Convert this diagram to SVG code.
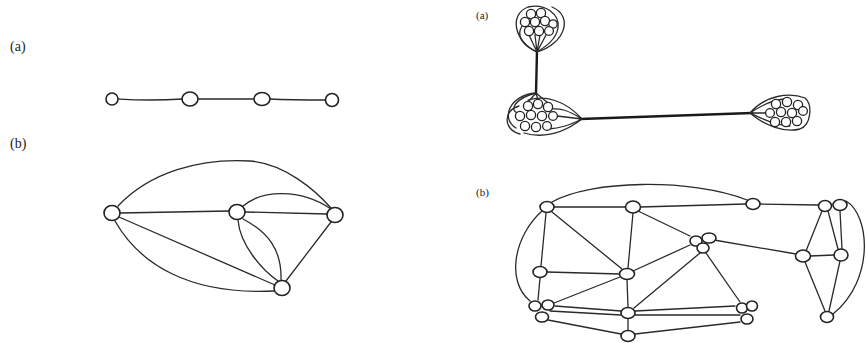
<svg xmlns="http://www.w3.org/2000/svg" width="866" height="343" viewBox="0 0 866 343">
<style>
.lbl{font-family:"Liberation Serif","DejaVu Serif",serif;fill:#222}
.e{fill:none;stroke:#2a2a2a;stroke-width:1.3;stroke-linecap:round}
.t{fill:none;stroke:#1a1a1a;stroke-width:2.4;stroke-linecap:round}
.n{fill:#fff;stroke:#222;stroke-width:1.6}
.c{fill:#fff;stroke:#222;stroke-width:1.3}
</style>
<rect width="866" height="343" fill="#fff"/>
<g id="labels">
<text class="lbl" x="10" y="51" font-size="14">(a)</text>
<text class="lbl" x="10" y="148" font-size="14">(b)</text>
<text class="lbl" x="476" y="19" font-size="11">(a)</text>
<text class="lbl" x="476" y="196" font-size="11">(b)</text>
</g>
<g id="connectors">
<path class="e" d="M118,99 C135,100 150,101 183,99"/>
<path class="e" d="M198,99 L254,99"/>
<path class="e" d="M270,99 C290,100 305,100 326,100"/>
<path class="e" d="M118,206 C150,172 200,158 250,161 C285,164 315,190 331,208"/>
<path class="e" d="M243,206 C262,190 300,188 331,209"/>
<path class="e" d="M120,213 L229,211"/>
<path class="e" d="M245,212 L327,214"/>
<path class="e" d="M119,217 L275,285"/>
<path class="e" d="M115,221 C140,265 190,295 274,291"/>
<path class="e" d="M238,220 C240,245 262,270 278,281"/>
<path class="e" d="M243,219 C268,232 282,250 281,280"/>
<path class="e" d="M331,222 L286,281"/>
<path class="t" d="M537,50 L536,94"/>
<path class="t" d="M580,119 C640,117 700,115 752,113"/>
<path class="e" d="M552,202 C590,180 690,178 747,200"/>
<path class="e" d="M554,207 L626,207"/>
<path class="e" d="M640,207 L746,204"/>
<path class="e" d="M760,204 L818,205"/>
<path class="e" d="M546,213 L541,266"/>
<path class="e" d="M552,212 L622,269"/>
<path class="e" d="M542,211 C515,235 505,280 530,301"/>
<path class="e" d="M633,213 L628,268"/>
<path class="e" d="M638,211 L690,236"/>
<path class="e" d="M714,240 L796,254"/>
<path class="e" d="M690,245 L633,271"/>
<path class="e" d="M700,253 L634,308"/>
<path class="e" d="M706,253 L740,302"/>
<path class="e" d="M547,272 L620,274"/>
<path class="e" d="M540,278 L538,300"/>
<path class="e" d="M620,277 L554,303"/>
<path class="e" d="M627,280 L628,307"/>
<path class="e" d="M555,306 L621,311"/>
<path class="e" d="M550,311 L621,315"/>
<path class="e" d="M548,320 L621,334"/>
<path class="e" d="M635,311 L735,306"/>
<path class="e" d="M635,315 L740,315"/>
<path class="e" d="M635,334 L740,322"/>
<path class="e" d="M628,319 L628,330"/>
<path class="e" d="M822,211 L806,251"/>
<path class="e" d="M828,211 L838,249"/>
<path class="e" d="M840,211 L842,249"/>
<path class="e" d="M846,201 C870,215 875,280 833,314"/>
<path class="e" d="M810,256 L834,255"/>
<path class="e" d="M805,262 L825,311"/>
<path class="e" d="M840,261 L829,311"/>
</g>
<g id="la-n1"><ellipse class="n" cx="112" cy="99" rx="6" ry="6"/></g>
<g id="la-n2"><ellipse class="n" cx="190" cy="99" rx="8" ry="7"/></g>
<g id="la-n3"><ellipse class="n" cx="262" cy="99" rx="8" ry="6.5"/></g>
<g id="la-n4"><ellipse class="n" cx="332" cy="100" rx="6.5" ry="6.5"/></g>
<g id="lb-A"><ellipse class="n" cx="112" cy="213" rx="8" ry="7.5"/></g>
<g id="lb-B"><ellipse class="n" cx="237" cy="212" rx="8" ry="7.5"/></g>
<g id="lb-C"><ellipse class="n" cx="335" cy="215" rx="8" ry="7.5"/></g>
<g id="lb-D"><ellipse class="n" cx="282" cy="288" rx="8" ry="7.5"/></g>
<g id="ra-top">
<path class="e" d="M537,52 C515,42 508,15 528,7 C545,3 560,14 558,28 C556,40 545,47 537,52"/>
<path class="e" d="M537,52 C565,44 574,16 552,7"/>
<path class="e" d="M537,52 C522,45 516,36 522,26"/>
<path class="e" d="M537,52 L529,35 M537,52 L535,35 M537,52 L540,35 M537,52 L546,35"/>
<circle class="c" cx="531" cy="14" r="4.6"/><circle class="c" cx="541" cy="13" r="4.6"/>
<circle class="c" cx="525" cy="22" r="4.6"/><circle class="c" cx="535" cy="22" r="4.6"/><circle class="c" cx="545" cy="21" r="4.6"/><circle class="c" cx="553" cy="24" r="4.2"/>
<circle class="c" cx="529" cy="31" r="4.6"/><circle class="c" cx="539" cy="31" r="4.6"/><circle class="c" cx="549" cy="31" r="4.4"/>
</g>
<g id="ra-left">
<path class="e" d="M536,93 C510,95 500,118 516,128"/>
<path class="e" d="M536,93 C516,98 508,110 518,113"/>
<path class="e" d="M536,93 L528,102 M536,93 L538,100 M536,93 L548,103"/>
<path class="e" d="M582,119 C565,100 545,95 528,100"/>
<path class="e" d="M582,119 C565,132 545,139 524,133"/>
<path class="e" d="M582,119 L557,116 M582,119 C568,110 560,108 550,109 M582,119 C568,126 560,128 548,129"/>
<path class="e" d="M519,106 C503,110 503,130 520,134"/>
<circle class="c" cx="528" cy="106" r="4.6"/><circle class="c" cx="538" cy="104" r="4.6"/><circle class="c" cx="548" cy="107" r="4.6"/>
<circle class="c" cx="520" cy="116" r="4.6"/><circle class="c" cx="531" cy="115" r="4.6"/><circle class="c" cx="542" cy="116" r="4.6"/><circle class="c" cx="553" cy="116" r="4.4"/>
<circle class="c" cx="525" cy="126" r="4.6"/><circle class="c" cx="536" cy="127" r="4.6"/><circle class="c" cx="547" cy="126" r="4.4"/>
</g>
<g id="ra-right">
<path class="e" d="M750,113 C765,95 790,92 805,98 C813,105 811,125 800,129 C785,133 765,126 750,113"/>
<path class="e" d="M750,113 C765,103 775,99 786,99"/>
<path class="e" d="M750,113 L766,113 M750,113 C765,120 775,125 790,126"/>
<circle class="c" cx="776" cy="104" r="4.6"/><circle class="c" cx="787" cy="102" r="4.6"/><circle class="c" cx="798" cy="105" r="4.6"/>
<circle class="c" cx="770" cy="113" r="4.4"/><circle class="c" cx="781" cy="112" r="4.6"/><circle class="c" cx="792" cy="113" r="4.6"/><circle class="c" cx="803" cy="111" r="4.4"/>
<circle class="c" cx="775" cy="122" r="4.6"/><circle class="c" cx="786" cy="122" r="4.6"/><circle class="c" cx="797" cy="121" r="4.6"/>
</g>
<g id="rb-n1"><ellipse class="n" cx="547" cy="207" rx="7" ry="5.5"/></g>
<g id="rb-n2"><ellipse class="n" cx="633" cy="207" rx="7.5" ry="6"/></g>
<g id="rb-n3"><ellipse class="n" cx="753" cy="204" rx="7" ry="5.5"/></g>
<g id="rb-n4"><ellipse class="n" cx="825" cy="206" rx="6.5" ry="5.5"/><ellipse class="n" cx="840" cy="205" rx="7" ry="5.5"/></g>
<g id="rb-n5"><ellipse class="n" cx="696" cy="241" rx="6" ry="5"/><ellipse class="n" cx="709" cy="238" rx="7" ry="5"/><ellipse class="n" cx="703" cy="248" rx="6" ry="5"/></g>
<g id="rb-n6"><ellipse class="n" cx="803" cy="256" rx="7.5" ry="6"/></g>
<g id="rb-n7"><ellipse class="n" cx="841" cy="255" rx="7" ry="6"/></g>
<g id="rb-n8"><ellipse class="n" cx="540" cy="272" rx="7" ry="5.5"/></g>
<g id="rb-n9"><ellipse class="n" cx="627" cy="274" rx="7.5" ry="5.5"/></g>
<g id="rb-n10"><ellipse class="n" cx="535" cy="306" rx="6" ry="5"/><ellipse class="n" cx="548" cy="305" rx="6" ry="5"/><ellipse class="n" cx="542" cy="317" rx="6.5" ry="5"/></g>
<g id="rb-n11"><ellipse class="n" cx="628" cy="313" rx="7" ry="5.5"/></g>
<g id="rb-n12"><ellipse class="n" cx="742" cy="308" rx="5.5" ry="5"/><ellipse class="n" cx="752" cy="306" rx="5.5" ry="5"/><ellipse class="n" cx="747" cy="319" rx="6" ry="5"/></g>
<g id="rb-n13"><ellipse class="n" cx="827" cy="317" rx="6.5" ry="5.5"/></g>
<g id="rb-n14"><ellipse class="n" cx="628" cy="336" rx="7" ry="5.5"/></g>
</svg>
